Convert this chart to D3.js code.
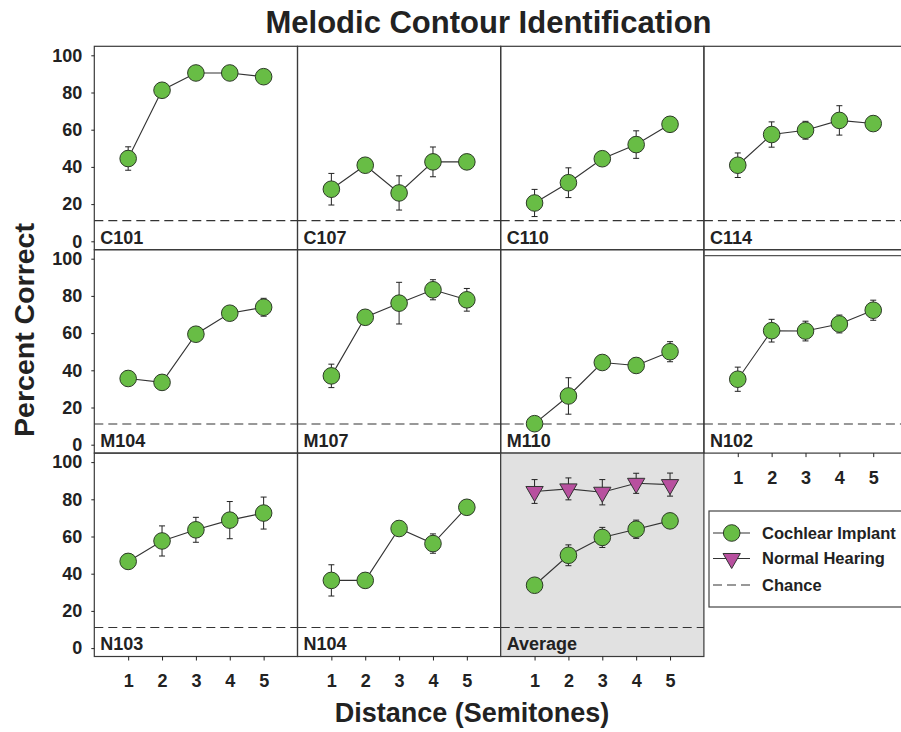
<!DOCTYPE html>
<html>
<head>
<meta charset="utf-8">
<script src="https://cdn.jsdelivr.net/npm/d3@7"></script>
<style>
  body { margin: 0; background: #fff; }
  svg { display: block; font-family: "Liberation Sans", Arial, sans-serif; }
</style>
</head>
<body>
<script>
// panels, left to right, top to bottom
const panelNames = ["C101", "C107", "C110", "C114", "M104", "M107", "M110", "N102", "N103", "N104", "Average"];
const distances = [1, 2, 3, 4, 5];
const yTicks = [0, 20, 40, 60, 80, 100];
const chance = 11.1;

// cochlear implant means (percent correct) per panel
const ciMeans = [
  [44.5, 81.2, 90.5, 90.5, 88.5],
  [28.0, 40.9, 26.0, 42.7, 42.7],
  [20.6, 31.5, 44.4, 52.0, 62.9],
  [40.9, 57.4, 59.7, 65.0, 63.3],
  [35.6, 33.5, 59.4, 70.7, 73.9],
  [37.0, 68.5, 76.1, 83.3, 77.9],
  [11.3, 26.2, 44.2, 42.6, 50.0],
  [35.2, 61.3, 61.1, 64.9, 72.3],
  [46.6, 57.6, 63.6, 68.8, 72.6],
  [36.4, 36.4, 64.3, 56.2, 75.7],
  [33.8, 49.9, 59.5, 63.9, 68.4]
];
// error bar half-widths
const ciErrors = [
  [6.3, 3, 2, 3, 2],
  [8.5, 3, 9.2, 8.0, 2],
  [7.3, 8.0, 3, 7.4, 3],
  [6.6, 6.8, 4.8, 7.9, 2],
  [2, 2, 3, 3, 4.8],
  [6.3, 3, 11.2, 5.4, 6.1],
  [3, 9.8, 3, 3, 5.4],
  [6.5, 6.1, 5.3, 4.8, 5.4],
  [3, 8.1, 6.7, 10.0, 8.6],
  [8.4, 3, 3, 5.2, 3],
  [3, 5.6, 5.4, 4.9, 3]
];
// normal hearing (average panel only)
const nhMeans = [84.2, 85.6, 83.8, 88.6, 87.9];
const nhErrors = [6.4, 5.9, 6.8, 5.4, 6.2];

const width = 901, height = 732;
const left0 = 94.3, top0 = 46.3;
const pw = 203.2, ph = 203.4;

const green = "#68bd45", magenta = "#b8509f", ink = "#222";

const svg = d3.select("body").append("svg")
  .attr("width", width)
  .attr("height", height);

const x = d3.scaleLinear().domain([0, 6]).range([0, pw]);
const y = d3.scaleLinear().domain([0, 100]).range([ph - 8.4, 9]);

const line = d3.line()
  .x((d, i) => x(distances[i]))
  .y(d => y(d));

const triangle = d3.symbol().type(d3.symbolTriangle).size(130);

function drawErrors(g, means, errs) {
  means.forEach((m, i) => {
    const cx = x(distances[i]);
    const y1 = y(m + errs[i]), y2 = y(m - errs[i]);
    g.append("line").attr("x1", cx).attr("x2", cx).attr("y1", y1).attr("y2", y2)
      .attr("stroke", ink).attr("stroke-width", 1);
    [y1, y2].forEach(yy => g.append("line")
      .attr("x1", cx - 3).attr("x2", cx + 3).attr("y1", yy).attr("y2", yy)
      .attr("stroke", ink).attr("stroke-width", 1));
  });
}

panelNames.forEach((name, p) => {
  const row = Math.floor(p / 4), col = p % 4;
  const g = svg.append("g")
    .attr("transform", "translate(" + (left0 + col * pw) + "," + (top0 + row * ph) + ")");

  g.append("rect")
    .attr("width", pw).attr("height", ph)
    .attr("fill", name === "Average" ? "#e1e1e1" : "none")
    .attr("stroke", "#3a3a3a").attr("stroke-width", 1.2);

  // second top rule on N102
  if (name === "N102") {
    g.append("line").attr("x1", 0).attr("x2", pw + 10).attr("y1", 6).attr("y2", 6)
      .attr("stroke", "#555").attr("stroke-width", 1.2);
  }

  // chance line
  g.append("line")
    .attr("x1", 0).attr("x2", pw)
    .attr("y1", y(chance)).attr("y2", y(chance))
    .attr("stroke", "#333").attr("stroke-width", 1.1)
    .attr("stroke-dasharray", "9,5");

  g.append("text")
    .attr("x", 6).attr("y", ph - 6)
    .attr("font-size", 18).attr("font-weight", "bold").attr("fill", ink)
    .text(name);

  // y axis on the first column
  if (col === 0) {
    const ax = g.append("g").call(d3.axisLeft(y).tickValues(yTicks).tickSize(3).tickPadding(9));
    ax.select(".domain").remove();
    ax.selectAll("text").attr("font-size", 18).attr("font-weight", "bold")
      .attr("font-family", "Liberation Sans, Arial, sans-serif").attr("fill", ink);
    ax.selectAll("line").attr("stroke", ink);
  }

  // x axis under the bottom panels
  if (row === 2 || name === "N102") {
    const ax = g.append("g").attr("transform", "translate(0," + ph + ")")
      .call(d3.axisBottom(x).tickValues(distances).tickSize(4).tickPadding(14).tickFormat(d3.format("d")));
    ax.select(".domain").remove();
    ax.selectAll("text").attr("font-size", 18).attr("font-weight", "bold")
      .attr("font-family", "Liberation Sans, Arial, sans-serif").attr("fill", ink);
    ax.selectAll("line").attr("stroke", ink);
  }

  if (name === "Average") {
    drawErrors(g, nhMeans, nhErrors);
    g.append("path").attr("d", line(nhMeans))
      .attr("fill", "none").attr("stroke", "#333").attr("stroke-width", 1.1);
    g.selectAll(".nh").data(nhMeans).join("path")
      .attr("transform", (d, i) => "translate(" + x(distances[i]) + "," + y(d) + ") rotate(180)")
      .attr("d", triangle)
      .attr("fill", magenta).attr("stroke", "#333").attr("stroke-width", 1);
  }

  drawErrors(g, ciMeans[p], ciErrors[p]);
  g.append("path").attr("d", line(ciMeans[p]))
    .attr("fill", "none").attr("stroke", "#333").attr("stroke-width", 1.1);
  g.selectAll(".ci").data(ciMeans[p]).join("circle")
    .attr("cx", (d, i) => x(distances[i]))
    .attr("cy", d => y(d))
    .attr("r", 8.3)
    .attr("fill", green).attr("stroke", "#2c3a26").attr("stroke-width", 1);
});

// titles
svg.append("text")
  .attr("x", 488.5).attr("y", 33)
  .attr("text-anchor", "middle")
  .attr("font-size", 31).attr("font-weight", "bold").attr("fill", ink)
  .text("Melodic Contour Identification");

svg.append("text")
  .attr("transform", "translate(34,330) rotate(-90)")
  .attr("text-anchor", "middle")
  .attr("font-size", 28.5).attr("font-weight", "bold").attr("fill", ink)
  .text("Percent Correct");

svg.append("text")
  .attr("x", 472).attr("y", 722)
  .attr("text-anchor", "middle")
  .attr("font-size", 27).attr("font-weight", "bold").attr("fill", ink)
  .text("Distance (Semitones)");

// legend
const legend = svg.append("g").attr("transform", "translate(709,511)");
legend.append("rect")
  .attr("width", 220).attr("height", 96)
  .attr("fill", "#fff").attr("stroke", "#444").attr("stroke-width", 1.2);

const legendItems = ["Cochlear Implant", "Normal Hearing", "Chance"];
legendItems.forEach((label, i) => {
  const ly = [22, 47.5, 74][i];
  legend.append("line")
    .attr("x1", 4).attr("x2", 41).attr("y1", ly).attr("y2", ly)
    .attr("stroke", "#333").attr("stroke-width", 1.1)
    .attr("stroke-dasharray", i === 2 ? "9,5" : null);
  if (i === 0) {
    legend.append("circle").attr("cx", 22.7).attr("cy", ly).attr("r", 8.3)
      .attr("fill", green).attr("stroke", "#2c3a26");
  } else if (i === 1) {
    legend.append("path")
      .attr("transform", "translate(22.7," + ly + ") rotate(180)")
      .attr("d", triangle)
      .attr("fill", magenta).attr("stroke", "#333");
  }
  legend.append("text")
    .attr("x", 53).attr("y", ly).attr("dy", "0.35em")
    .attr("font-size", 16.5).attr("font-weight", "bold").attr("fill", ink)
    .text(label);
});
</script>
</body>
</html>
